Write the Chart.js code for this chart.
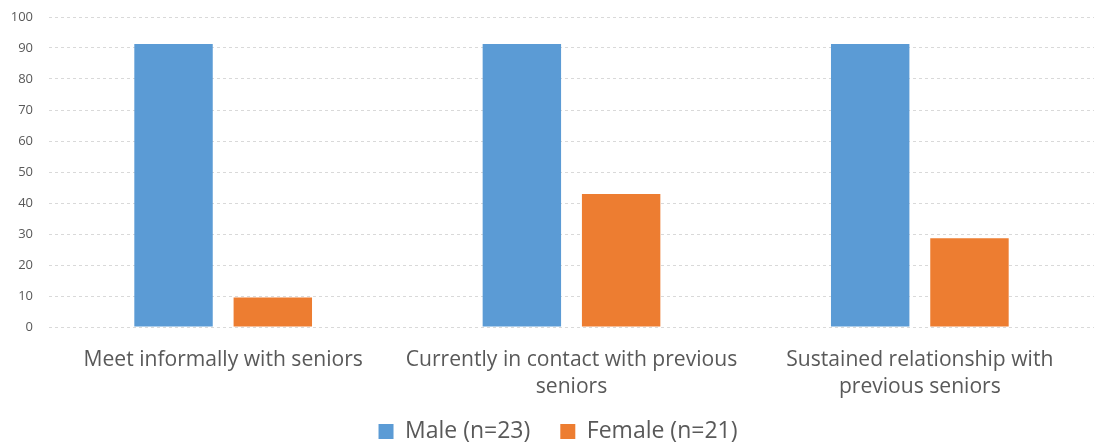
<!DOCTYPE html>
<html>
<head>
<meta charset="utf-8">
<script src="https://cdn.jsdelivr.net/npm/chart.js@4/dist/chart.umd.min.js"></script>
<style>
  html, body { margin: 0; padding: 0; background: #fff; }
  #wrap { width: 1099px; height: 443px; position: relative; }
</style>
</head>
<body>
<div id="wrap"><canvas id="c"></canvas></div>
<script>
const categories = [
  "Meet informally with seniors",
  ["Currently in contact with previous", "seniors"],
  ["Sustained relationship with", "previous seniors"]
];
const maleValues = [91.3, 91.3, 91.3];
const femaleValues = [9.5, 42.9, 28.6];
const seriesNames = ["Male (n=23)", "Female (n=21)"];
const yTicks = [0, 10, 20, 30, 40, 50, 60, 70, 80, 90, 100];

const fontFamily = "'Open Sans', Lato, sans-serif";

const layoutTweaks = {
  id: "layoutTweaks",
  afterLayout(chart) {
    // let the two-line category labels run past the x scale box instead of being clipped
    chart.scales.x.bottom = chart.height;
    // nudge the legend row to the right
    chart.legend.left += 11;
    chart.legend.right += 11;
  }
};

new Chart(document.getElementById("c"), {
  type: "bar",
  data: {
    labels: categories,
    datasets: [
      { label: seriesNames[0], data: maleValues, backgroundColor: "#5B9BD5" },
      { label: seriesNames[1], data: femaleValues, backgroundColor: "#ED7D31" }
    ]
  },
  plugins: [layoutTweaks],
  options: {
    responsive: true,
    maintainAspectRatio: false,
    animation: false,
    categoryPercentage: 0.57,
    barPercentage: 0.79,
    layout: { padding: { top: 17, right: 5, left: 0, bottom: -10 } },
    plugins: {
      tooltip: { enabled: false },
      legend: {
        position: "bottom",
        labels: {
          color: "#595959",
          font: { family: fontFamily, size: 23 },
          boxWidth: 15,
          boxHeight: 15,
          padding: 30
        }
      }
    },
    scales: {
      x: {
        grid: { display: false },
        border: { display: false },
        ticks: {
          color: "#595959",
          font: { family: fontFamily, size: 21.1, lineHeight: 1.3 },
          padding: 11,
          maxRotation: 0,
          autoSkip: false
        },
        afterFit(scale) { scale.height = 63; }
      },
      y: {
        min: 0,
        max: 100,
        afterBuildTicks(scale) { scale.ticks = yTicks.map(v => ({ value: v })); },
        grid: {
          color: "#d9d9d9",
          drawTicks: false
        },
        border: { display: false, dash: [3, 3] },
        ticks: {
          color: "#595959",
          font: { family: fontFamily, size: 13 },
          padding: 16
        },
        afterFit(scale) {
          scale.width = 49;
          scale.paddingTop = 0;
          scale.paddingBottom = 0;
        }
      }
    }
  }
});
</script>
</body>
</html>
